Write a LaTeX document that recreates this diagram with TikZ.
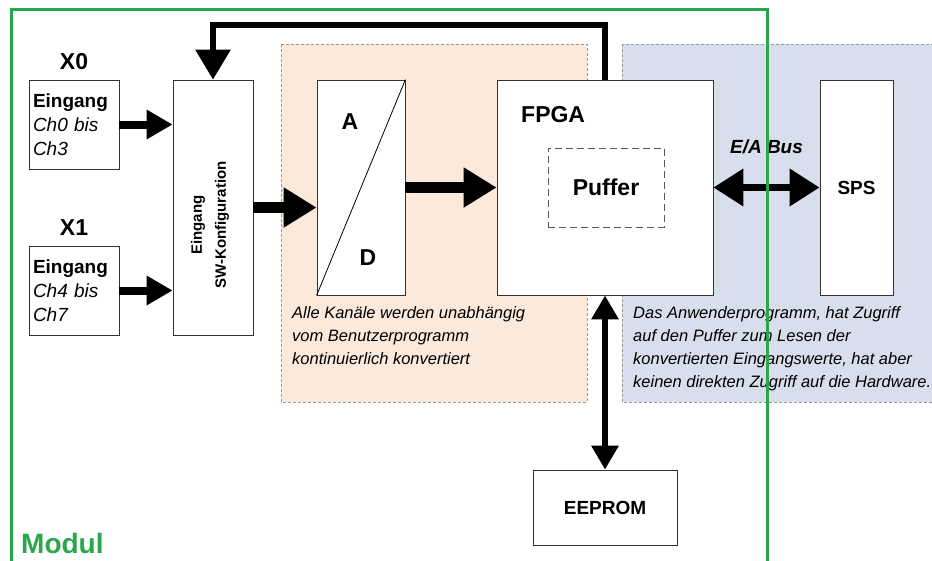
\documentclass[tikz,border=0pt]{standalone}
\usepackage{fontspec}
\setmainfont{Liberation Sans}
\usetikzlibrary{positioning,arrows.meta}
\definecolor{modulgreen}{RGB}{40,167,75}
\definecolor{adfill}{RGB}{251,233,220}
\definecolor{spsfill}{RGB}{217,222,236}

\begin{document}
\begin{tikzpicture}[x=1pt,y=-1pt,
    box/.style={draw=black!80,fill=white,line width=0.8pt,inner sep=0pt},
    zone/.style={draw=black!40,line width=0.8pt,dash pattern=on 3pt off 2pt},
    big/.style={font=\bfseries\fontsize{23}{26}\selectfont,inner sep=0pt},
    note/.style={font=\itshape\fontsize{16.5}{23}\selectfont,align=left,anchor=north west,inner sep=0pt},
    fat/.style={line width=8pt,-{Triangle[length=26pt,width=28pt]}},
    fatter/.style={line width=11pt,-{Triangle[length=33pt,width=38pt]}},
    bus/.style={line width=7pt,{Triangle[length=30pt,width=36pt]}-{Triangle[length=30pt,width=36pt]}},
    bus2/.style={line width=6pt,{Triangle[length=24pt,width=26pt]}-{Triangle[length=24pt,width=26pt]}}]
    \useasboundingbox (0,0) rectangle (932,560);
    \draw[zone,fill=adfill] (281,44) rectangle (587,402);
    \draw[zone,fill=spsfill] (622,44) rectangle (945,402);
    % Eingaenge
    \node[box,minimum width=90pt,minimum height=89pt,text width=82pt,inner xsep=4pt,align=left,
          font=\fontsize{19}{24}\selectfont] (in0) at (74,124.5) {\textbf{Eingang}\\\textit{Ch0 bis}\\\textit{Ch3}};
    \node[box,minimum width=90pt,minimum height=89pt,text width=82pt,inner xsep=4pt,align=left,
          font=\fontsize{19}{24}\selectfont] (in1) at (74,290.5) {\textbf{Eingang}\\\textit{Ch4 bis}\\\textit{Ch7}};
    \node[big,above=10pt of in0] (x0) {X0};
    \node[big,above=10pt of in1] (x1) {X1};
    \node[box,minimum width=80pt,minimum height=255pt] (swk) at (213,207.5) {};
    \node[rotate=90,align=center,font=\bfseries\fontsize{15}{24}\selectfont] (swtext) at (210,225) {Eingang\\SW-Konfiguration};
    % A/D Wandler
    \node[box,minimum width=88pt,minimum height=215pt] (adc) at (361,187.5) {};
    \draw[line width=0.8pt] (adc.south west) -- (adc.north east);
    \node[big] (atxt) at (350,122) {A};
    \node[big] (dtxt) at (368,258) {D};
    % FPGA
    \node[box,minimum width=216pt,minimum height=215pt] (fpga) at (605,187.5) {};
    \node[big,anchor=west] (fpgatxt) at (521,115) {FPGA};
    \node[big,draw=black!65,line width=0.8pt,dash pattern=on 7pt off 4pt,minimum width=116pt,minimum height=79pt] (puffer) at (606,187.5) {Puffer};
    \node[box,minimum width=73pt,minimum height=215pt,font=\bfseries\fontsize{19}{22}\selectfont] (sps) at (856.5,187.5) {SPS};
    \node[box,minimum width=144pt,minimum height=75pt,font=\bfseries\fontsize{19}{22}\selectfont] (eeprom) at (605,507.5) {EEPROM};
    % Pfeile
    \draw[fat] (in0.east) -- (swk.west |- in0.east);
    \draw[fat] (in1.east) -- (swk.west |- in1.east);
    \draw[fatter] (swk.east) -- (adc.west |- swk.east);
    \draw[fatter] (adc.east) -- (fpga.west);
    \draw[bus] (fpga.east) -- node[above=30pt,inner sep=0pt,font=\bfseries\itshape\fontsize{19}{22}\selectfont] {E/A Bus} (sps.west);
    \draw[line width=6pt,-{Triangle[length=30pt,width=34pt]}] (fpga.north) -- ++(0,-55) -| (swk.north);
    \draw[bus2] (fpga.south) -- (eeprom.north);
    \node[note] (adnote) at (292,306) {Alle Kanäle werden unabhängig\\vom Benutzerprogramm\\kontinuierlich konvertiert};
    \node[note] (spsnote) at (633,306) {Das Anwenderprogramm, hat Zugriff\\auf den Puffer zum Lesen der\\konvertierten Eingangswerte, hat aber\\keinen direkten Zugriff auf die Hardware.};
    % Modul
    \draw[modulgreen,line width=3pt] (11,9) rectangle (767,580);
    \node[anchor=base west,inner sep=0pt,text=modulgreen,font=\bfseries\fontsize{28}{30}\selectfont] (modul) at (21,553) {Modul};
\end{tikzpicture}
\end{document}
